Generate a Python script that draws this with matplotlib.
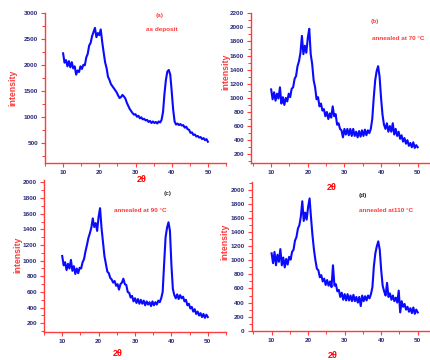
import numpy as np
import matplotlib
matplotlib.use('Agg')
import matplotlib.pyplot as plt
from matplotlib.ticker import MultipleLocator

plt.rcParams['font.family'] = ['Liberation Sans', 'DejaVu Sans']

W, H = 431, 360

# 2theta grid, 0.4 deg step from 10 to 50
two_theta = np.round(np.arange(10.0, 50.01, 0.4), 1)

# (a) as deposit
int_a = [2230, 2050, 2100, 1980, 2080, 1960, 2060, 1940, 1980, 1820,
         1900, 1870, 1980, 1930, 2010, 2000, 2150, 2220, 2380, 2430,
         2560, 2640, 2720, 2540, 2620, 2580, 2690, 2450, 2250, 2060,
         1950, 1780, 1720, 1640, 1600, 1560, 1520, 1480, 1420, 1370,
         1390, 1430, 1400, 1360, 1280, 1220, 1160, 1120, 1080, 1050,
         1060, 1010, 1030, 980, 1000, 960, 970, 940, 950, 910,
         930, 890, 920, 890, 910, 880, 920, 900, 950, 1100,
         1450, 1720, 1880, 1910, 1820, 1500, 1150, 920, 860, 880,
         850, 870, 840, 850, 800, 820, 770, 760, 700, 710,
         660, 670, 630, 640, 610, 620, 580, 600, 560, 580,
         530]

# (b) annealed at 70 C
int_b = [1120, 980, 1080, 960, 1060, 990, 1150, 920, 1010, 900,
         1000, 950, 1060, 1010, 1130, 1150, 1270, 1310, 1450, 1520,
         1640, 1880, 1620, 1740, 1640, 1850, 1980, 1620, 1480, 1250,
         1150, 980, 1010, 880, 920, 820, 840, 740, 800, 700,
         780, 720, 880, 740, 770, 620, 640, 560, 540, 440,
         560, 480, 560, 470, 560, 460, 560, 460, 520, 440,
         530, 450, 540, 460, 550, 470, 540, 500, 560, 700,
         1000, 1250, 1380, 1450, 1300, 1000, 760, 620, 560, 640,
         520, 600, 520, 640, 480, 560, 460, 520, 420, 470,
         380, 430, 350, 400, 320, 360, 300, 370, 290, 330,
         300]

# (c) annealed at 90 C
int_c = [1060, 940, 980, 880, 960, 900, 1010, 870, 930, 830,
         900, 840, 910, 900, 980, 1020, 1120, 1200, 1290, 1350,
         1420, 1540, 1430, 1480, 1380, 1560, 1670, 1420, 1240, 1060,
         960, 860, 840, 780, 760, 720, 740, 680, 700, 630,
         700, 720, 770, 700, 690, 600, 590, 530, 550, 480,
         520, 460, 510, 450, 500, 450, 490, 430, 480, 440,
         470, 420, 480, 430, 470, 440, 490, 470, 520, 600,
         960, 1300, 1420, 1490, 1380, 950, 640, 560, 520, 570,
         510, 560, 520, 540, 480, 500, 430, 450, 390, 410,
         350, 380, 320, 350, 300, 330, 280, 320, 270, 310,
         280]

# (d) annealed at 110 C
int_d = [1100, 960, 1120, 930, 1080, 980, 1160, 930, 1040, 900,
         1020, 940, 1050, 1010, 1120, 1150, 1280, 1330, 1450, 1500,
         1620, 1840, 1560, 1680, 1580, 1760, 1880, 1600, 1350, 1150,
         1000, 880, 860, 760, 790, 700, 740, 650, 720, 640,
         700, 620, 930, 640, 660, 560, 580, 480, 540, 440,
         520, 430, 520, 430, 500, 420, 510, 420, 480, 400,
         480, 350, 500, 420, 490, 430, 500, 460, 520, 620,
         920, 1100, 1200, 1270, 1150, 860, 640, 560, 500, 680,
         480, 530, 440, 500, 420, 470, 400, 570, 260, 420,
         340, 380, 300, 340, 270, 320, 250, 330, 240, 300,
         260]

labels = ['(a)', '(b)', '(c)', '(d)']
notes = ['as deposit', 'annealed at 70 °C', 'annealed at 90 °C', 'annealed at110 °C']
ylims = [(115, 3000), (72, 2200), (93, 2030), (0, 2118)]
xlims = [(5, 55), (4.5, 55), (5, 55), (4.5, 55)]
yticks = [range(500, 3001, 500), range(200, 2201, 200),
          range(200, 2001, 200), range(0, 2001, 200)]
yminor = [250, 100, 100, 100]

red = '#ff3b3b'
navy = '#2a2a7a'
blue = '#0a0aff'

fig = plt.figure(figsize=(W / 100, H / 100), dpi=100)

# axes boxes in pixels: left, top, right, bottom
boxes = [(45, 13.3, 226, 163.3),
         (251, 13.3, 436, 163.3),
         (44, 180, 226, 331.7),
         (251.5, 181.7, 436, 330.7)]

data = [int_a, int_b, int_c, int_d]
for i in range(4):
    l, t, r, b = boxes[i]
    ax = fig.add_axes([l / W, 1 - b / H, (r - l) / W, (b - t) / H])
    ax.plot(two_theta, data[i], color=blue, lw=1.5)
    ax.set_xlim(*xlims[i])
    ax.set_ylim(*ylims[i])
    for s in ['top', 'right']:
        ax.spines[s].set_visible(False)
    for s in ['left', 'bottom']:
        ax.spines[s].set_color(red)
        ax.spines[s].set_linewidth(1.0)
    ax.set_xticks([10, 20, 30, 40, 50])
    ax.set_yticks(list(yticks[i]))
    ax.xaxis.set_minor_locator(MultipleLocator(5))
    ax.yaxis.set_minor_locator(MultipleLocator(yminor[i]))
    ax.tick_params(which='major', length=3, width=0.8, color=red, labelsize=4.6,
                   labelcolor=navy, pad=2)
    ax.tick_params(which='minor', length=2, width=0.7, color=red)
    for lab in ax.get_xticklabels() + ax.get_yticklabels():
        lab.set_fontweight('bold')

def ftext(x, y, s, **kw):
    fig.text(x / W, 1 - y / H, s, ha='center', va='center', fontweight='bold', **kw)

# x labels
for x, y in [(142, 180), (332, 188), (118, 354), (333, 356)]:
    ftext(x, y, '2θ', color='red', fontsize=6.5)

# y labels
for x, y in [(13, 88), (226, 72), (18, 255), (225, 242)]:
    ftext(x, y, 'intensity', color=red, fontsize=6.3, rotation=90)

# panel letters and notes
ftext(160, 16, labels[0], color=red, fontsize=4.6)
ftext(162, 29, notes[0], color=red, fontsize=4.6)
ftext(375, 21, labels[1], color=red, fontsize=4.6)
ftext(398, 39, notes[1], color=red, fontsize=4.6)
ftext(168, 193, labels[2], color='#333333', fontsize=4.6)
ftext(140, 210, notes[2], color=red, fontsize=4.6)
ftext(363, 196, labels[3], color='#222222', fontsize=4.6)
ftext(386, 210, notes[3], color=red, fontsize=4.6)

fig.savefig('out.png', dpi=100)
